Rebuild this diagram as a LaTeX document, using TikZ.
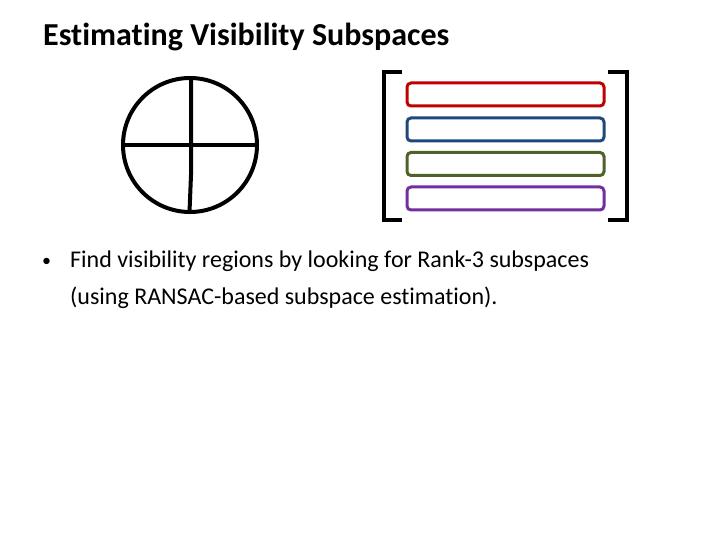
\documentclass[tikz,border=0pt]{standalone}
\usepackage{fontspec}
\setmainfont[Ligatures=NoCommon]{Carlito}
\definecolor{rowred}{HTML}{C00000}
\definecolor{rowblue}{HTML}{1F497D}
\definecolor{rowgreen}{HTML}{4F6228}
\definecolor{rowpurple}{HTML}{7030A0}
\begin{document}
\begin{tikzpicture}[x=1pt,y=-1pt,
  heavy/.style={line width=4pt,black},
  rowbox/.style={line width=3pt,rounded corners=4pt},
  txt/.style={inner sep=0pt,anchor=base west}]
\useasboundingbox[fill=white] (0,0) rectangle (720,540);
% title
\node[txt,font=\fontsize{32}{38}\selectfont\bfseries] (title) at (43,46) {Estimating Visibility Subspaces};
% circle with cross
\coordinate (c) at (190,145);
\draw[heavy] (c) circle (67);
\coordinate (ctop) at (191,78);
\coordinate (cbot) at (189.5,212);
\coordinate (cl) at (123,145);
\coordinate (cr) at (257,145);
\draw[heavy] (ctop) -- (191,175) -- (cbot);
\draw[heavy] (cl) -- (cr);
% brackets
\coordinate (lbt) at (402,72);
\coordinate (lbb) at (402,220);
\coordinate (rbt) at (608,72);
\coordinate (rbb) at (608,220);
\draw[heavy,line cap=butt] (lbt) -- (384,72) -- (384,220) -- (lbb);
\draw[heavy,line cap=butt] (rbt) -- (627,72) -- (627,220) -- (rbb);
% rows
\draw[rowbox,draw=rowred] (407,83) rectangle (604,106);
\draw[rowbox,draw=rowblue] (407,118) rectangle (604,141);
\draw[rowbox,draw=rowgreen] (407,152.5) rectangle (604,175.5);
\draw[rowbox,draw=rowpurple] (407,187) rectangle (604,210);
% bullet text
\node[txt,font=\fontsize{18}{22}\selectfont] (bul) at (42,266) {•};
\node[txt,font=\fontsize{24}{29}\selectfont] (l1) at (70,267) {Find visibility regions by looking for Rank-3 subspaces};
\node[txt,font=\fontsize{24}{29}\selectfont] (l2) at (70,304) {(using RANSAC-based subspace estimation).};
\end{tikzpicture}
\end{document}
